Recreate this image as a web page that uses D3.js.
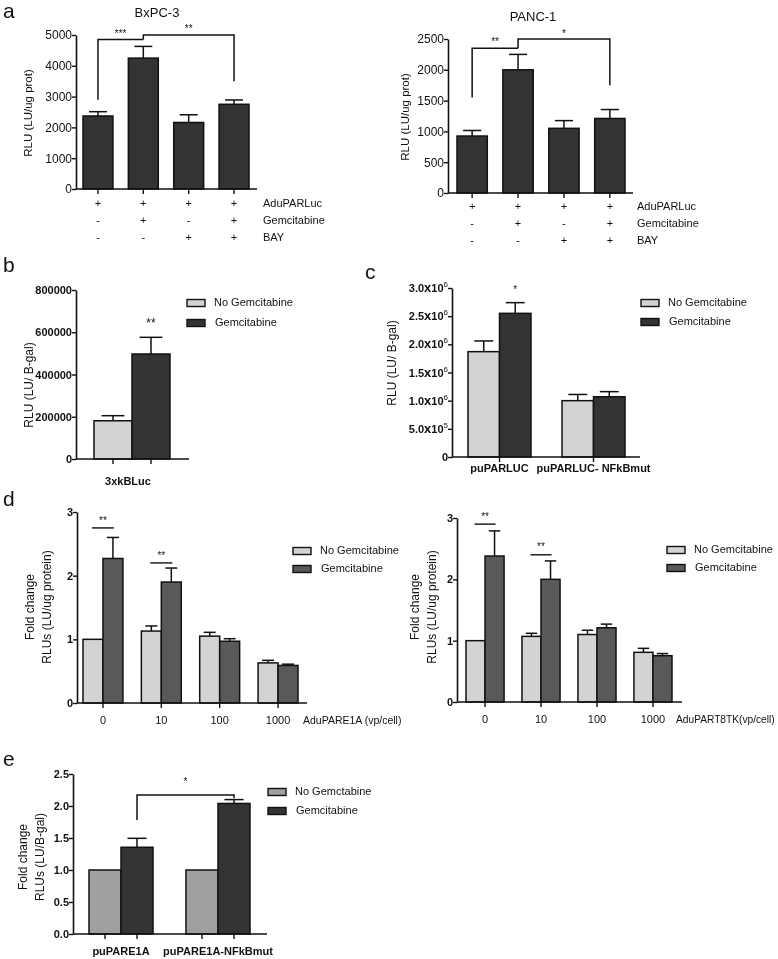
<!DOCTYPE html>
<html><head><meta charset="utf-8">
<script src="https://cdn.jsdelivr.net/npm/d3@7"></script>
<style>body{margin:0;background:#fff}svg{display:block;opacity:0.999;will-change:opacity}text{font-family:"Liberation Sans",Arial,sans-serif;fill:#111;-webkit-font-smoothing:antialiased}</style>
</head><body><svg id="fig" width="778" height="959"></svg>
<script>
// ---------- DATA ----------
const aConds = ["c1","c2","c3","c4"];
const aRowLabels = ["AduPARLuc","Gemcitabine","BAY"];
const aRowSigns = [["+","+","+","+"],["-","+","-","+"],["-","-","+","+"]];
const bxpcMean = [2370, 4250, 2160, 2750];
const bxpcSem  = [140, 380, 250, 140];
const bxpcTicks = [0,1000,2000,3000,4000,5000];
const panc1Mean = [925, 2000, 1050, 1210];
const panc1Sem  = [90, 250, 125, 145];
const panc1Ticks = [0,500,1000,1500,2000,2500];

const seriesNames = ["No Gemcitabine","Gemcitabine"];
const bCats = ["3xkBLuc"];
const bNoGem = [181000], bNoGemSem = [24000];
const bGem = [497000], bGemSem = [79000];
const bTicks = [0,200000,400000,600000,800000];

const cCats = ["puPARLUC","puPARLUC- NFkBmut"];
const cNoGem = [1870000, 1000000], cNoGemSem = [190000, 110000];
const cGem = [2550000, 1070000], cGemSem = [190000, 90000];
const cTicks = [0,500000,1000000,1500000,2000000,2500000,3000000];

const dCats = ["0","10","100","1000"];
const d1NoGem = [1.0, 1.13, 1.05, 0.63], d1NoGemSem = [0, 0.08, 0.06, 0.04];
const d1Gem = [2.27, 1.90, 0.97, 0.59], d1GemSem = [0.33, 0.22, 0.04, 0.02];
const d2NoGem = [1.0, 1.07, 1.10, 0.81], d2NoGemSem = [0, 0.05, 0.07, 0.065];
const d2Gem = [2.38, 2.0, 1.21, 0.755], d2GemSem = [0.41, 0.30, 0.06, 0.035];
const dTicks = [0,1,2,3];

const eCats = ["puPARE1A","puPARE1A-NFkBmut"];
const eSeriesNames = ["No Gemctabine","Gemcitabine"];
const eNoGem = [1.0, 1.0], eNoGemSem = [0, 0];
const eGem = [1.355, 2.04], eGemSem = [0.14, 0.06];
const eTicks = [0,0.5,1.0,1.5,2.0,2.5];

// ---------- DRAW ----------
const svg = d3.select("#fig");
const LIGHT = "#d3d3d3", DARK = "#333333", DMID = "#595959", EGRAY = "#a0a0a0";

function panelLetter(t, x, y){ svg.append("text").attr("x",x).attr("y",y).attr("font-size",21).text(t); }

function yAxis(y, x0, ticks, fmt, bold, size){
  const g = svg.append("g").attr("transform",`translate(${x0},0)`)
    .call(d3.axisLeft(y).tickValues(ticks).tickFormat(fmt).tickSize(4).tickSizeOuter(0));
  g.select(".domain").attr("stroke","#111").attr("stroke-width",1.6);
  g.selectAll(".tick line").attr("stroke","#111").attr("stroke-width",1.4);
  g.selectAll(".tick text").attr("font-size",size||11).attr("font-weight",bold?"bold":"normal")
   .attr("font-family",'"Liberation Sans",Arial,sans-serif').attr("fill","#111").attr("x",-4);
  return g;
}
function xLine(x0, x1, yb){
  svg.append("line").attr("x1",x0).attr("x2",x1).attr("y1",yb).attr("y2",yb).attr("stroke","#111").attr("stroke-width",1.6);
}
function tickDown(x, yb){ svg.append("line").attr("x1",x).attr("x2",x).attr("y1",yb).attr("y2",yb+5).attr("stroke","#111").attr("stroke-width",1.4); }
function bar(x, w, y, v, fill){
  svg.append("rect").attr("x",x).attr("y",y(v)).attr("width",w).attr("height",y(0)-y(v))
    .attr("fill",fill).attr("stroke","#111").attr("stroke-width",1.5);
}
function errBar(cx, w, y, v, s){
  if(!s) return;
  const cap = w*0.3;
  svg.append("line").attr("x1",cx).attr("x2",cx).attr("y1",y(v)).attr("y2",y(v+s)).attr("stroke","#111").attr("stroke-width",1.5);
  svg.append("line").attr("x1",cx-cap).attr("x2",cx+cap).attr("y1",y(v+s)).attr("y2",y(v+s)).attr("stroke","#111").attr("stroke-width",1.5);
}
function yLabel(lines, x, cy, size){
  const t = svg.append("text").attr("transform",`translate(${x},${cy}) rotate(-90)`).attr("text-anchor","middle").attr("font-size",size||11);
  lines.forEach((l,i)=> t.append("tspan").attr("x",0).attr("dy", i===0 ? -(lines.length-1)*8.5 : 17).text(l));
}
function txt(s, x, y, opts){
  opts = opts||{};
  return svg.append("text").attr("x",x).attr("y",y).attr("font-size",opts.size||11)
    .attr("text-anchor",opts.anchor||"start").attr("font-weight",opts.bold?"bold":"normal")
    .attr("dominant-baseline","middle").text(s);
}
function path(pts){
  svg.append("path").attr("d",d3.line()(pts)).attr("fill","none").attr("stroke","#111").attr("stroke-width",1.5);
}
function legend(x, y, names, fills, gap){
  names.forEach((n,i)=>{
    svg.append("rect").attr("x",x).attr("y",y+i*gap-3.5).attr("width",18).attr("height",7).attr("fill",fills[i]).attr("stroke","#111").attr("stroke-width",1.4);
    txt(n, x+27+(i===1?1:0), y+i*gap, {size:11});
  });
}

// ----- panel a -----
function panelA(title, titleX, mean, sem, ticks, yTop, yBot, ax0, ax1, b0, b1, rowX, rowY0, bracket){
  const y = d3.scaleLinear().domain([0, ticks[ticks.length-1]]).range([yBot, yTop]);
  const x = d3.scaleBand().domain(aConds).range([b0,b1]).paddingInner(0.34);
  aConds.forEach((c,i)=>{ bar(x(c), x.bandwidth(), y, mean[i], DARK); errBar(x(c)+x.bandwidth()/2, x.bandwidth(), y, mean[i], sem[i]); tickDown(x(c)+x.bandwidth()/2, yBot); });
  xLine(ax0, ax1, yBot);
  yAxis(y, ax0, ticks, d3.format("d"), false, 12);
  txt(title, titleX, y(ticks[ticks.length-1])-21, {size:13, anchor:"middle"});
  aRowSigns.forEach((row,r)=>{
    row.forEach((s,i)=> txt(s, x(aConds[i])+x.bandwidth()/2, rowY0+r*17, {anchor:"middle", size:11}));
    txt(aRowLabels[r], rowX, rowY0+r*17, {size:11});
  });
  const cx = i => x(aConds[i])+x.bandwidth()/2;
  bracket(cx, y);
}
panelLetter("a", 3, 18);
panelA("BxPC-3", 157, bxpcMean, bxpcSem, bxpcTicks, 35, 189, 76, 257, 83, 249, 263, 204, (cx,y)=>{
  const h1 = y(4850), h2 = y(5000);
  path([[cx(0), y(2900)],[cx(0),h1],[cx(1),h1]]);
  path([[cx(1), h1],[cx(1),h2],[cx(3),h2],[cx(3),y(3500)]]);
  txt("***", (cx(0)+cx(1))/2, h1-5, {anchor:"middle", size:10});
  txt("**", (cx(1)+cx(3))/2, h2-6, {anchor:"middle", size:10});
});
yLabel(["RLU (LU/ug prot)"], 32, 113, 11.5);
panelA("PANC-1", 533, panc1Mean, panc1Sem, panc1Ticks, 39, 193, 448, 633, 457, 625, 637, 207, (cx,y)=>{
  const h1 = y(2350), h2 = y(2500);
  path([[cx(0), y(1550)],[cx(0),h1],[cx(1),h1]]);
  path([[cx(1), h1],[cx(1),h2],[cx(3),h2],[cx(3),y(1750)]]);
  txt("**", (cx(0)+cx(1))/2, h1-6, {anchor:"middle", size:10});
  txt("*", (cx(1)+cx(3))/2, h2-5, {anchor:"middle", size:10});
});
yLabel(["RLU (LU/ug prot)"], 409, 117, 11.5);

// ----- grouped panels -----
function grouped(o){
  const y = d3.scaleLinear().domain([0, o.ticks[o.ticks.length-1]]).range([o.yBot, o.yTop]);
  const x = d3.scaleBand().domain(o.cats).range([o.b0,o.b1]).paddingInner(o.pad);
  const xs = d3.scaleBand().domain([0,1]).range([0, x.bandwidth()]);
  const series = [[o.s0, o.s0e],[o.s1, o.s1e]];
  o.cats.forEach((c,i)=>{
    series.forEach((s,k)=>{
      const bx = x(c)+xs(k), w = xs.bandwidth();
      bar(bx, w, y, s[0][i], o.fills[k]);
      errBar(bx+w/2, w, y, s[0][i], s[1][i]);
      if(o.tickEach) tickDown(bx+w/2, o.yBot);
    });
    if(!o.tickEach) tickDown(x(c)+x.bandwidth()/2, o.yBot);
    if(o.catLabels) txt(c, x(c)+x.bandwidth()/2+(o.labelShift||0), o.labelY, {anchor:"middle", bold:o.boldLabels, size:11});
  });
  xLine(o.ax0, o.ax1, o.yBot);
  const g = yAxis(y, o.ax0, o.ticks, o.fmt, true);
  if(o.sci){
    g.selectAll(".tick text").text(null).each(function(d){
      const t = d3.select(this);
      if(d===0){ t.text("0"); return; }
      const e = Math.floor(Math.log10(d)), m = d/Math.pow(10,e);
      t.append("tspan").text(m.toFixed(1));
      t.append("tspan").attr("font-size",13).text("x");
      t.append("tspan").text("10");
      t.append("tspan").attr("font-size",8).attr("font-weight","normal").attr("dy",-5).text(e);
    });
  }
  o.extra && o.extra(x, xs, y);
  return {x, xs, y};
}

// b
panelLetter("b", 3, 272);
grouped({cats:bCats, s0:bNoGem, s0e:bNoGemSem, s1:bGem, s1e:bGemSem, ticks:bTicks, fmt:d3.format("d"),
  yTop:290, yBot:459, b0:94, b1:170, pad:0, ax0:76, ax1:189, fills:[LIGHT,DARK], tickEach:true,
  catLabels:true, labelY:482, labelShift:-4, boldLabels:true,
  extra:(x,xs,y)=>{ txt("**", x(bCats[0])+xs(1)+xs.bandwidth()/2, y(640000), {anchor:"middle", size:12}); }});
yLabel(["RLU (LU/ B-gal)"], 33, 385, 12);
legend(187, 303, seriesNames, [LIGHT, DARK], 20);

// c
panelLetter("c", 365, 279);
grouped({cats:cCats, s0:cNoGem, s0e:cNoGemSem, s1:cGem, s1e:cGemSem, ticks:cTicks, fmt:d3.format("d"), sci:true,
  yTop:288, yBot:457, b0:468, b1:625, pad:0.33, ax0:452, ax1:640, fills:[LIGHT,DARK], tickEach:false,
  catLabels:true, labelY:469, boldLabels:true,
  extra:(x,xs,y)=>{ txt("*", x(cCats[0])+xs(1)+xs.bandwidth()/2, y(2.96e6), {anchor:"middle", size:10}); }});
yLabel(["RLU (LU/ B-gal)"], 396, 363, 12);
legend(641, 303, seriesNames, [LIGHT, DARK], 19);

// d left
panelLetter("d", 3, 506);
function dStars(x, xs, y, cats, idx, lvls){
  idx.forEach((i,j)=>{
    const x0 = x(cats[i])+xs.bandwidth()*0.5-1, x1 = x(cats[i])+xs.bandwidth()*1.5+1;
    const yy = y(lvls[j]);
    svg.append("line").attr("x1",x0).attr("x2",x1).attr("y1",yy).attr("y2",yy).attr("stroke","#111").attr("stroke-width",1.4);
    txt("**", (x0+x1)/2, yy-7, {anchor:"middle", size:10});
  });
}
grouped({cats:dCats, s0:d1NoGem, s0e:d1NoGemSem, s1:d1Gem, s1e:d1GemSem, ticks:dTicks, fmt:d3.format("d"),
  yTop:512, yBot:703, b0:83, b1:298, pad:0.316, ax0:77, ax1:307, fills:[LIGHT,DMID], tickEach:false,
  catLabels:true, labelY:721, boldLabels:false,
  extra:(x,xs,y)=> dStars(x,xs,y,dCats,[0,1],[2.75,2.2]) });
txt("AduPARE1A (vp/cell)", 303, 721, {size:10.5});
yLabel(["Fold change","RLUs (LU/ug protein)"], 42, 607, 12);
legend(293, 551, seriesNames, [LIGHT, DMID], 18);

// d right
grouped({cats:dCats, s0:d2NoGem, s0e:d2NoGemSem, s1:d2Gem, s1e:d2GemSem, ticks:dTicks, fmt:d3.format("d"),
  yTop:518, yBot:702, b0:466, b1:672, pad:0.32, ax0:457, ax1:682, fills:[LIGHT,DMID], tickEach:false,
  catLabels:true, labelY:720, boldLabels:false,
  extra:(x,xs,y)=> dStars(x,xs,y,dCats,[0,1],[2.9,2.4]) });
txt("AduPART8TK(vp/cell)", 676, 720, {size:10.2});
yLabel(["Fold change","RLUs (LU/ug protein)"], 427, 607, 12);
legend(667, 550, seriesNames, [LIGHT, DMID], 18);

// e
panelLetter("e", 3, 766);
grouped({cats:eCats, s0:eNoGem, s0e:eNoGemSem, s1:eGem, s1e:eGemSem, ticks:eTicks, fmt:d3.format(".1f"),
  yTop:774, yBot:934, b0:89, b1:250, pad:0.34, ax0:73, ax1:267, fills:[EGRAY,DARK], tickEach:true,
  catLabels:true, labelY:952, boldLabels:true,
  extra:(x,xs,y)=>{
    const c1 = x(eCats[0])+xs(1)+xs.bandwidth()/2, c2 = x(eCats[1])+xs(1)+xs.bandwidth()/2;
    path([[c1, y(1.78)],[c1, y(2.17)],[c2, y(2.17)],[c2, y(2.12)]]);
    txt("*", (c1+c2)/2, y(2.37), {anchor:"middle", size:10});
  }});
yLabel(["Fold change","RLUs (LU/B-gal)"], 35, 857, 12);
legend(268, 792, eSeriesNames, [EGRAY, DARK], 19);
</script></body></html>
